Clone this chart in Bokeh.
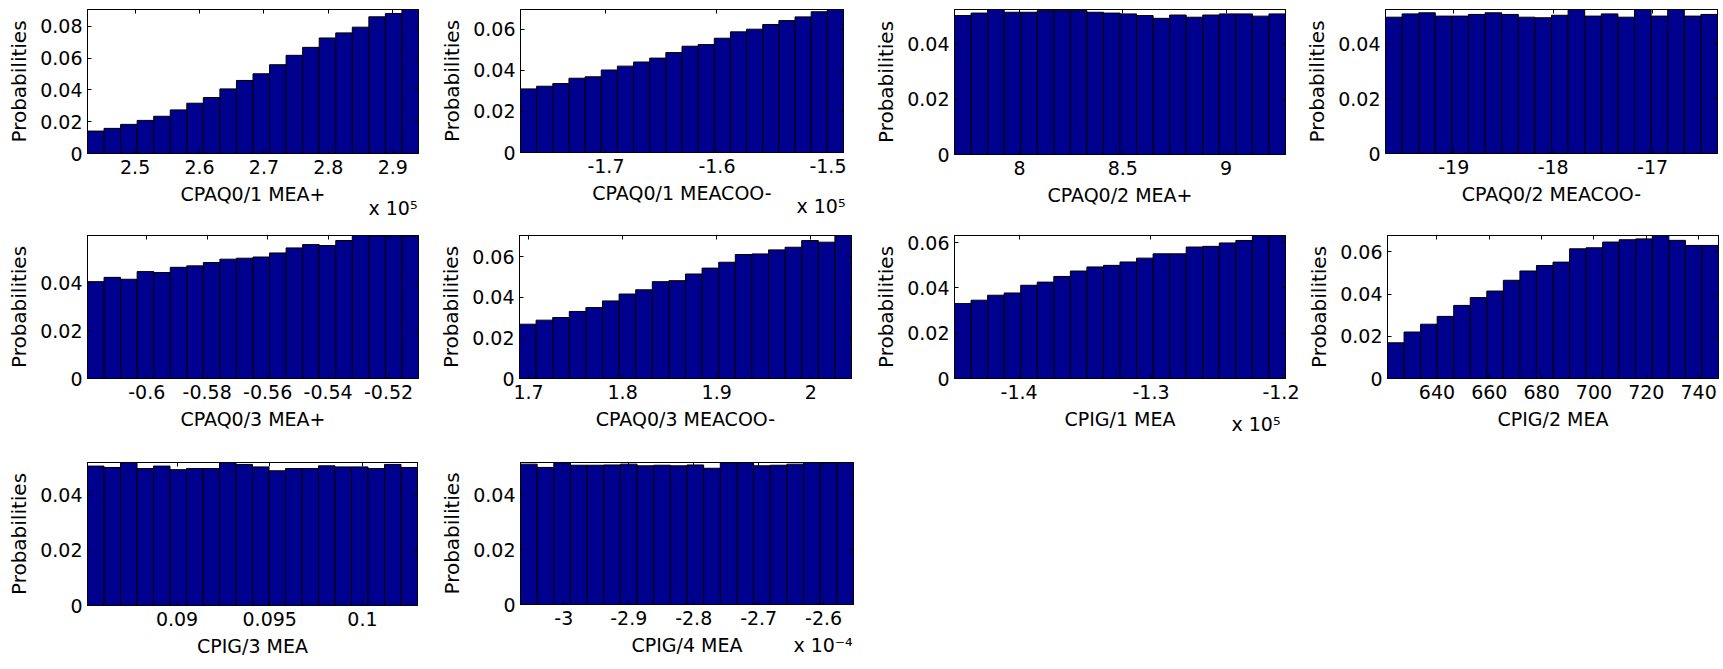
import numpy as np
from bokeh.plotting import figure
from bokeh.layouts import column, row
from bokeh.models import (Range1d, FixedTicker, CustomJSTickFormatter, LinearAxis,
                          CustomLabelingPolicy)
from bokeh.embed import file_html
from bokeh.resources import INLINE

# ---------------- data (probabilities per bin) ----------------
y_label = "Probabilities"
y_ticks = [0, 0.02, 0.04, 0.06, 0.08]

names = ["CPAQ0/1 MEA+", "CPAQ0/1 MEACOO-", "CPAQ0/2 MEA+", "CPAQ0/2 MEACOO-",
         "CPAQ0/3 MEA+", "CPAQ0/3 MEACOO-", "CPIG/1 MEA", "CPIG/2 MEA",
         "CPIG/3 MEA", "CPIG/4 MEA"]

cpaq01_mea = [0.0141, 0.0158, 0.0183, 0.0208, 0.0234, 0.0274, 0.0316, 0.0352, 0.0406, 0.0459,
              0.0501, 0.0558, 0.0617, 0.0667, 0.0726, 0.0758, 0.0794, 0.0859, 0.0880, 0.0905]
cpaq01_meacoo = [0.0310, 0.0323, 0.0336, 0.0362, 0.0369, 0.0402, 0.0421, 0.0441, 0.0460, 0.0487,
                 0.0518, 0.0526, 0.0557, 0.0588, 0.0601, 0.0624, 0.0643, 0.0661, 0.0686, 0.0697]
cpaq02_mea = [0.0503, 0.0512, 0.0525, 0.0515, 0.0515, 0.0521, 0.0521, 0.0521, 0.0515, 0.0512,
              0.0509, 0.0503, 0.0493, 0.0505, 0.0497, 0.0505, 0.0509, 0.0509, 0.0501, 0.0509]
cpaq02_meacoo = [0.0496, 0.0508, 0.0512, 0.0500, 0.0500, 0.0506, 0.0512, 0.0506, 0.0496, 0.0494,
                 0.0503, 0.0524, 0.0500, 0.0508, 0.0496, 0.0524, 0.0500, 0.0524, 0.0500, 0.0506]
cpaq03_mea = [0.0405, 0.0423, 0.0415, 0.0447, 0.0443, 0.0465, 0.0471, 0.0485, 0.0499, 0.0503,
              0.0508, 0.0525, 0.0546, 0.0560, 0.0556, 0.0577, 0.0598, 0.0597, 0.0598, 0.0596]
cpaq03_meacoo = [0.0268, 0.0288, 0.0301, 0.0331, 0.0350, 0.0383, 0.0417, 0.0438, 0.0478, 0.0483,
                 0.0516, 0.0545, 0.0574, 0.0612, 0.0615, 0.0635, 0.0648, 0.0681, 0.0673, 0.0706]
cpig1_mea = [0.0331, 0.0346, 0.0368, 0.0378, 0.0412, 0.0426, 0.0451, 0.0475, 0.0493, 0.0500,
             0.0515, 0.0532, 0.0551, 0.0551, 0.0581, 0.0584, 0.0599, 0.0610, 0.0632, 0.0632]
cpig2_mea = [0.0169, 0.0220, 0.0257, 0.0294, 0.0346, 0.0383, 0.0414, 0.0465, 0.0509, 0.0535,
             0.0551, 0.0614, 0.0619, 0.0646, 0.0657, 0.0661, 0.0677, 0.0654, 0.0630, 0.0630]
cpig3_mea = [0.0505, 0.0500, 0.0518, 0.0496, 0.0505, 0.0492, 0.0496, 0.0496, 0.0518, 0.0511,
             0.0502, 0.0488, 0.0496, 0.0496, 0.0506, 0.0502, 0.0502, 0.0496, 0.0511, 0.0500]
cpig4_mea = [0.0512, 0.0500, 0.0518, 0.0508, 0.0508, 0.0509, 0.0512, 0.0506, 0.0508, 0.0506,
             0.0509, 0.0497, 0.0517, 0.0518, 0.0506, 0.0508, 0.0512, 0.0518, 0.0517, 0.0518]

series = [cpaq01_mea, cpaq01_meacoo, cpaq02_mea, cpaq02_meacoo, cpaq03_mea,
          cpaq03_meacoo, cpig1_mea, cpig2_mea, cpig3_mea, cpig4_mea]

# value range covered by the bins (in displayed units)
x_lo = [2.426, -1.777, 7.685, -19.687, -0.6196, 1.6904, -1.449, 621.1, 0.08517, -3.0667]
x_hi = [2.940, -1.486, 9.288, -16.347, -0.5101, 2.0433, -1.198, 747.6, 0.10297, -2.554]

x_ticks = [[2.5, 2.6, 2.7, 2.8, 2.9],
           [-1.7, -1.6, -1.5],
           [8, 8.5, 9],
           [-19, -18, -17],
           [-0.6, -0.58, -0.56, -0.54, -0.52],
           [1.7, 1.8, 1.9, 2],
           [-1.4, -1.3, -1.2],
           [640, 660, 680, 700, 720, 740],
           [0.09, 0.095, 0.1],
           [-3, -2.9, -2.8, -2.7, -2.6]]

exponents = ["x 10\u2075", "x 10\u2075", None, None, None, None, "x 10\u2075", None, None, "x 10\u207b\u2074"]

# ---------------- layout (pixels) ----------------
# left border, frame width, right border, top border, frame height, bottom border
geometry = [
    (87, 331, 15, 8, 144, 75), (87, 323, 23, 9, 143, 75), (88, 331, 14, 7, 145, 75), (86, 332, 4, 8, 144, 75),
    (87, 331, 15, 8, 143, 76), (86, 332, 15, 8, 143, 76), (88, 331, 14, 8, 143, 76), (88, 331, 3, 8, 143, 76),
    (87, 330, 16, 8, 143, 62), (87, 333, 13, 8, 142, 63),
]
# multiplier text: (px of its centre to the left of the frame's right edge, label standoff)
expo_place = {0: (25.5, -11), 1: (22.5, -12), 6: (29.5, -20), 9: (30.5, -25)}

FONT = "DejaVu Sans"
BAR = "#00008F"
FS = "19px"
FS_Y = "20px"


def fmt():
    return CustomJSTickFormatter(code="return String(parseFloat(tick.toFixed(6)));")


def style_axis(ax, label_size):
    ax.major_tick_in = 4
    ax.major_tick_out = 0
    ax.minor_tick_in = 0
    ax.minor_tick_out = 0
    ax.axis_line_color = "black"
    ax.major_tick_line_color = "black"
    ax.major_label_text_font = FONT
    ax.major_label_text_font_size = FS
    ax.major_label_text_color = "black"
    ax.axis_label_text_font = FONT
    ax.axis_label_text_font_size = label_size
    ax.axis_label_text_font_style = "normal"
    ax.axis_label_text_color = "black"


def make(i):
    vals = series[i]
    lo, hi = x_lo[i], x_hi[i]
    l, fw, r, t, fh, b = geometry[i]
    edges = np.linspace(lo, hi, len(vals) + 1)
    p = figure(width=l + fw + r, height=t + fh + b, frame_width=fw, frame_height=fh,
               x_range=Range1d(lo, hi), y_range=Range1d(0, max(vals)),
               output_backend="svg", toolbar_location=None,
               min_border_left=l, min_border_right=r, min_border_top=t, min_border_bottom=b)
    p.grid.visible = False
    p.outline_line_color = "black"
    p.background_fill_color = "white"
    p.border_fill_color = "white"
    p.quad(left=edges[:-1], right=edges[1:], bottom=0, top=vals,
           fill_color=BAR, line_color="black", line_width=1)

    xa = p.xaxis[0]
    ya = p.yaxis[0]
    style_axis(xa, FS)
    style_axis(ya, FS_Y)
    xa.ticker = FixedTicker(ticks=x_ticks[i])
    ya.ticker = FixedTicker(ticks=y_ticks)
    xa.formatter = fmt()
    ya.formatter = fmt()
    xa.axis_label = names[i]
    ya.axis_label = y_label
    xa.major_label_standoff = 6
    xa.axis_label_standoff = 6
    ya.major_label_standoff = 5
    ya.axis_label_standoff = 6

    # mirrored tick marks on the top and right edges (box style), without labels
    for loc, tk in (("above", x_ticks[i]), ("right", y_ticks)):
        mx = LinearAxis(ticker=FixedTicker(ticks=tk))
        style_axis(mx, FS)
        mx.major_label_text_font_size = "1px"
        mx.major_label_standoff = 0
        mx.major_label_policy = CustomLabelingPolicy(
            code="for (const i of indices) { indices.unset(i) }")
        p.add_layout(mx, loc)

    if exponents[i] is not None:
        px_in, so = expo_place[i]
        anchor = hi - px_in * (hi - lo) / fw
        ex = LinearAxis(ticker=FixedTicker(ticks=[anchor]),
                        major_label_overrides={anchor: exponents[i]})
        style_axis(ex, FS)
        ex.axis_line_color = None
        ex.major_tick_line_color = None
        ex.minor_tick_line_color = None
        ex.major_label_standoff = so
        p.add_layout(ex, "below")
    return p


figs = [make(i) for i in range(10)]
layout = column(row(*figs[0:4]), row(*figs[4:8]), row(*figs[8:10]))

open("out.html", "w").write(file_html(layout, INLINE))
